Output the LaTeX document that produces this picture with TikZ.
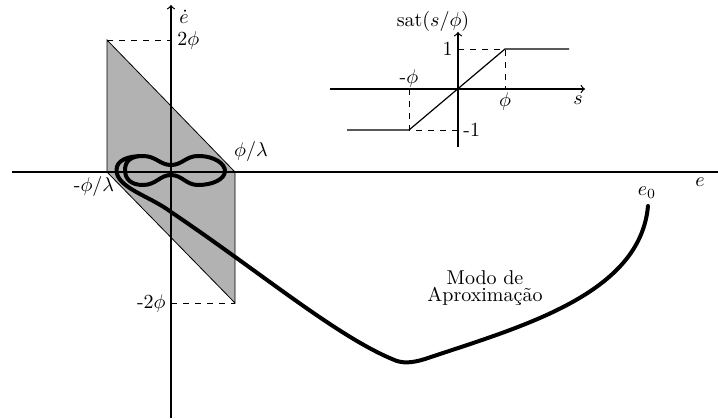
\documentclass[tikz,border=0pt]{standalone}
\usepackage{fontspec}
\begin{document}
\begin{tikzpicture}[x=0.5pt,y=-0.5pt,
  every node/.style={inner sep=0pt},
  axis/.style={line width=0.6pt},
  guide/.style={dashed, line width=0.4pt},
  traj/.style={line width=2pt, line join=round, line cap=round}]
\useasboundingbox (0,0) rectangle (718,418);
% sliding band
\filldraw[fill=black!30, draw=black, line width=0.4pt] (107,40) -- (235,172) -- (235,303) -- (107,172) -- cycle;
\draw[guide] (107,40) -- (171,40);
\draw[guide] (171,303) -- (235,303);
% main axes
\draw[axis] (12,172) -- (718,172);
\draw[axis,->] (171,418) -- (171,5);
% trajectory
\draw[traj] (648,206) .. controls (640,295) and (520,327) .. (425,359)
  .. controls (412,363) and (402,364) .. (392,359)
  .. controls (335,335) and (260,272) .. (171,212)
  .. controls (150,196) and (116.5,188) .. (116.5,170)
  .. controls (116.5,160) and (128,156) .. (143,156)
  .. controls (156,156) and (160,165) .. (171,165)
  .. controls (182,165) and (186,156) .. (198,156)
  .. controls (215,156) and (225,164) .. (225,171)
  .. controls (225,179) and (213,185) .. (198,185)
  .. controls (186,185) and (182,175) .. (171,175)
  .. controls (160,175) and (156,185) .. (143,185)
  .. controls (131,185) and (125,179) .. (125,170)
  .. controls (125,161) and (131,156) .. (143,156)
  .. controls (156,156) and (160,165) .. (171,165)
  .. controls (182,165) and (186,156) .. (198,156)
  .. controls (215,156) and (225,164) .. (225,171)
  .. controls (225,179) and (213,185) .. (198,185)
  .. controls (186,185) and (182,175) .. (171,175);
% labels main
\node (edot) at (184,17) {$\dot e$};
\node[anchor=west] (twophi) at (177,40) {$2\phi$};
\node (phil) at (251,151) {$\phi/\lambda$};
\node (mphil) at (94,186) {-$\phi/\lambda$};
\node[anchor=east] (mtwophi) at (166,303) {-$2\phi$};
\node (e) at (700,182) {$e$};
\node (ezero) at (647,193) {$e_0$};
\node[align=center, font=\fontsize{10}{8.7}\selectfont] (modo) at (485,288) {Modo de\\Aproximação};
% saturation inset
\draw[axis,->] (330,89) -- (585,89);
\draw[axis,->] (458,147) -- (458,32);
\draw[line width=0.6pt] (347,130) -- (409,130) -- (505,49) -- (569,49);
\draw[guide] (458,49) -- (505,49) -- (505,89);
\draw[guide] (409,89) -- (409,130) -- (458,130);
\node (satl) at (433,21) {sat$(s/\phi)$};
\node[anchor=east] (one) at (453,49) {1};
\node[anchor=west] (mone) at (463,130) {-1};
\node (mphi) at (409,78) {-$\phi$};
\node (phi) at (505,101) {$\phi$};
\node (s) at (578,100) {$s$};
\end{tikzpicture}
\end{document}
